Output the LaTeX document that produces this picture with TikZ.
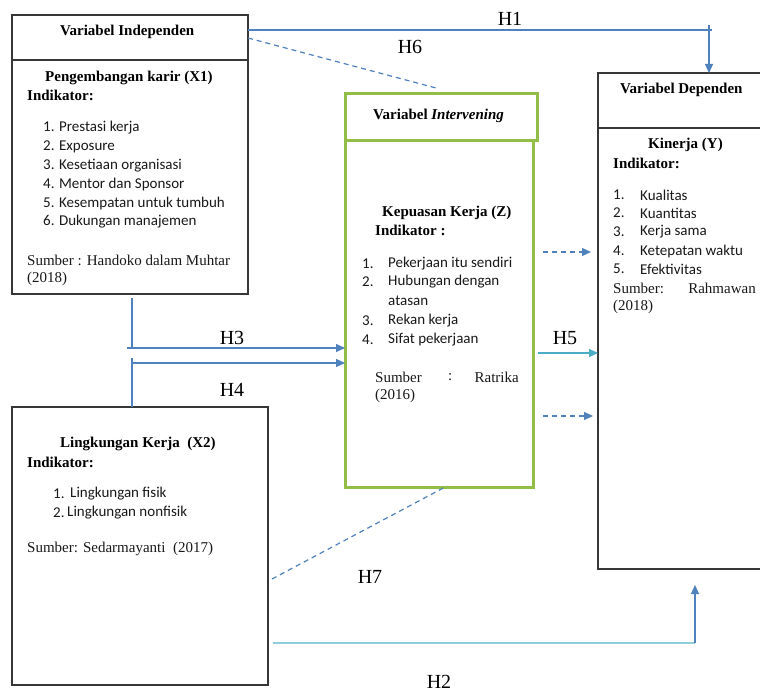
\documentclass[tikz,border=0pt]{standalone}
\usepackage{fontspec}
\setmainfont{Liberation Serif}
\newfontfamily\calfont{Carlito}
\usetikzlibrary{arrows.meta}
\definecolor{lblue}{RGB}{79,129,189}
\definecolor{teal5}{RGB}{75,172,198}
\definecolor{pale2}{RGB}{146,205,220}
\definecolor{lgreen}{RGB}{146,190,72}
\definecolor{bord}{RGB}{55,55,55}
\tikzset{
  boxn/.style={draw=bord, line width=1.6pt, anchor=north west, inner sep=0, outer sep=0},
  gboxn/.style={draw=lgreen, line width=3pt, anchor=north west, inner sep=0, outer sep=0},
  ttl/.style={font=\fontsize{15}{18}\selectfont\bfseries, inner sep=0, anchor=west},
  lst/.style={font=\calfont\fontsize{15}{18}\selectfont, inner sep=0, anchor=west, text=black!90},
  src/.style={font=\fontsize{15}{18}\selectfont, inner sep=0, anchor=west, text=black!90},
  hlab/.style={font=\fontsize{20}{24}\selectfont, inner sep=0},
  tipb/.style={-{Triangle[length=9pt,width=8pt]}},
  bline/.style={draw=lblue, line width=1.2pt},
  dline/.style={draw=lblue, line width=1.2pt, dash pattern=on 5pt off 4pt}
}
\begin{document}
\begin{tikzpicture}[x=1pt,y=-1pt]
\useasboundingbox (0,0) rectangle (760,693);
\clip (0,0) rectangle (760,693);
\fill[white] (0,0) rectangle (760,693);
% boxes
\node[boxn, minimum width=236pt, minimum height=45pt] (x1h) at (12,15) {};
\node[boxn, minimum width=236pt, minimum height=234pt] (x1b) at (12,60) {};
\node[gboxn, minimum width=192pt, minimum height=47pt] (ih) at (345,93) {};
\node[gboxn, minimum width=188pt, minimum height=347pt] (ib) at (345,140) {};
\node[boxn, minimum width=190pt, minimum height=55pt] (dh) at (598,73) {};
\node[boxn, minimum width=190pt, minimum height=441pt] (db) at (598,128) {};
\node[boxn, minimum width=256pt, minimum height=278pt] (x2) at (12,407) {};
% X1 texts
\node[ttl] (t1) at (60,32) {Variabel Independen};
\node[ttl] (t2) at (45,78) {Pengembangan karir (X1)};
\node[ttl] (t3) at (27,95) {Indikator:};
\node[lst] (a1) at (43,128) {1. Prestasi kerja};
\node[lst] (a2) at (43,147) {2. Exposure};
\node[lst] (a3) at (43,166) {3. Kesetiaan organisasi};
\node[lst] (a4) at (43,184) {4. Mentor dan Sponsor};
\node[lst] (a5) at (43,203) {5. Kesempatan untuk tumbuh};
\node[lst] (a6) at (43,222) {6. Dukungan manajemen};
\node[src] (s1) at (27,260) {Sumber : Handoko dalam Muhtar};
\node[src] (s1b) at (27,279) {(2018)};
% Intervening texts
\node[ttl] (t4) at (373,116) {Variabel \textit{Intervening}};
\node[ttl] (t5) at (382,213) {Kepuasan Kerja (Z)};
\node[ttl] (t6) at (375,230) {Indikator :};
\node[lst] (b1n) at (362,264) {1.};
\node[lst] (b1) at (388,264) {Pekerjaan itu sendiri};
\node[lst] (b2n) at (362,282) {2.};
\node[lst] (b2) at (388,282) {Hubungan dengan};
\node[lst] (b2b) at (388,301) {atasan};
\node[lst] (b3n) at (362,321) {3.};
\node[lst] (b3) at (388,321) {Rekan kerja};
\node[lst] (b4n) at (362,340) {4.};
\node[lst] (b4) at (388,340) {Sifat pekerjaan};
\node[src] (s2a) at (375,377) {Sumber};
\node[src] (s2c) at (448,377) {:};
\node[src, anchor=east] (s2d) at (519,377) {Ratrika};
\node[src] (s2e) at (375,396) {(2016)};
% Dependen texts
\node[ttl] (t7) at (620,90) {Variabel Dependen};
\node[ttl] (t8) at (648,145) {Kinerja (Y)};
\node[ttl] (t9) at (613,163) {Indikator:};
\node[lst] (c1n) at (613,195) {1.};
\node[lst] (c1) at (640,195) {Kualitas};
\node[lst] (c2n) at (613,213) {2.};
\node[lst] (c2) at (640,213) {Kuantitas};
\node[lst] (c3n) at (613,232) {3.};
\node[lst] (c3) at (640,232) {Kerja sama};
\node[lst] (c4n) at (613,251) {4.};
\node[lst] (c4) at (640,251) {Ketepatan waktu};
\node[lst] (c5n) at (613,269) {5.};
\node[lst] (c5) at (640,269) {Efektivitas};
\node[src] (s3a) at (613,288) {Sumber:};
\node[src, anchor=east] (s3b) at (756,288) {Rahmawan};
\node[src] (s3c) at (613,307) {(2018)};
% X2 texts
\node[ttl] (t10) at (60,444) {Lingkungan Kerja\ \ (X2)};
\node[ttl] (t11) at (27,462) {Indikator:};
\node[lst] (d1n) at (53,494) {1.};
\node[lst] (d1) at (70,494) {Lingkungan fisik};
\node[lst] (d2n) at (53,513) {2.};
\node[lst] (d2) at (67,513) {Lingkungan nonfisik};
\node[src] (s4) at (27,549) {Sumber: Sedarmayanti\ \ (2017)};
% coordinates
\coordinate (h1c) at (712,30);
\coordinate (h1t) at (709,25);
\coordinate (h6s) at (248,38);
\coordinate (h6e) at (436,88);
\coordinate (h3a) at (132,298);
\coordinate (h3b) at (132,348);
\coordinate (h3c) at (127,348);
\coordinate (h4a) at (132,358);
\coordinate (h4b) at (132,363);
\coordinate (h7s) at (272,579);
\coordinate (h7e) at (447,486);
\coordinate (h2s) at (273,643);
\coordinate (h2c) at (695,643);
\coordinate (h2t) at (695,585);
\coordinate (da1) at (543,252);
\coordinate (da2) at (591,252);
\coordinate (db1) at (543,416);
\coordinate (db2) at (593,416);
\coordinate (h5) at (538,353);
% connectors
\draw[bline] (x1h.east |- h1c) -- (h1c);
\draw[bline, tipb] (h1t) -- (h1t |- dh.north);
\draw[dline] (h6s) -- (h6e);
\draw[bline] (h3a) -- (h3b);
\draw[bline, tipb] (h3c) -- (ib.west |- h3c);
\draw[bline] (h4a) -- (h4a |- x2.north);
\draw[bline, tipb] (h4b) -- (ib.west |- h4b);
\draw[dline, tipb] (da1) -- (da2);
\draw[dline, tipb] (db1) -- (db2);
\draw[draw=teal5, line width=1.2pt, tipb] (h5) -- (db.west |- h5);
\draw[dline] (h7s) -- (h7e);
\draw[draw=pale2, line width=2pt] (h2s) -- (h2c);
\draw[bline, tipb] (h2c) -- (h2t);
% labels
\node[hlab] (l1) at (510,19) {H1};
\node[hlab] (l6) at (410,47) {H6};
\node[hlab] (l3) at (232,338) {H3};
\node[hlab] (l4) at (232,390) {H4};
\node[hlab] (l5) at (565,338) {H5};
\node[hlab] (l7) at (370,577) {H7};
\node[hlab] (l2) at (439,682) {H2};
\end{tikzpicture}
\end{document}
